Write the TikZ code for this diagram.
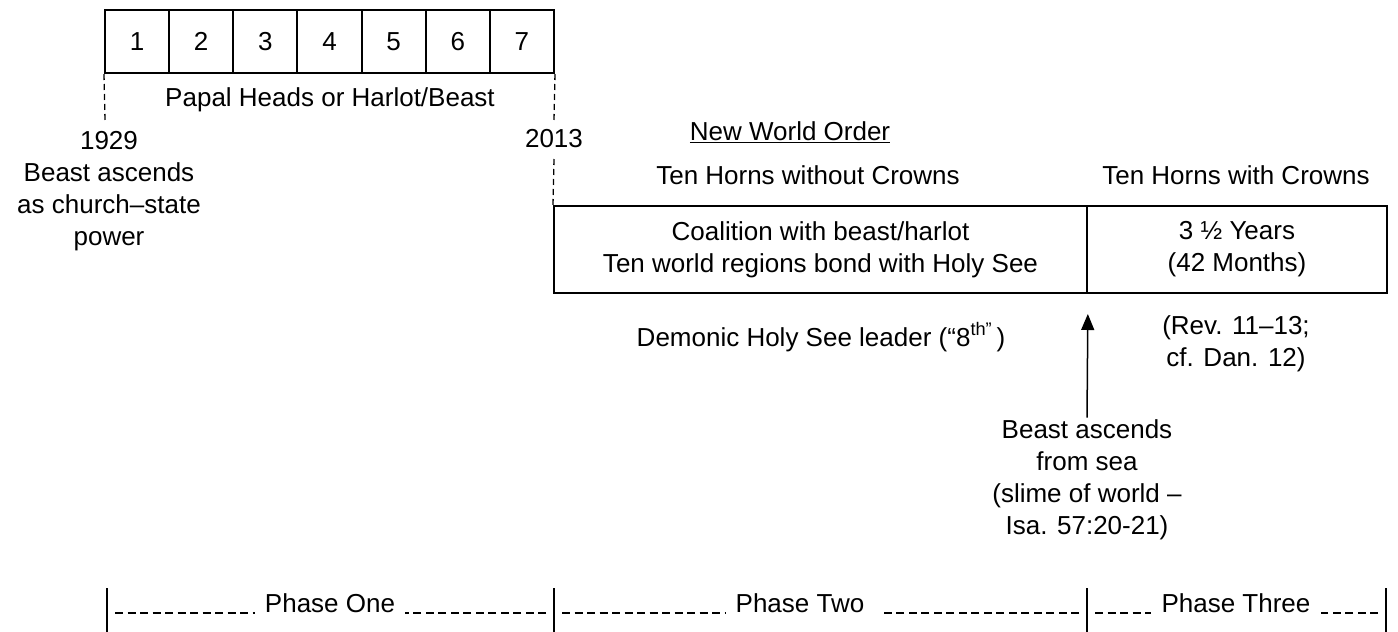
\documentclass[tikz,border=0pt]{standalone}
\usepackage{fontspec}
\setmainfont{Liberation Sans}
\usetikzlibrary{positioning,arrows.meta}

\begin{document}
\begin{tikzpicture}[x=1pt,y=-1pt,font=\fontsize{26}{32}\selectfont,
	head/.style={draw,line width=2pt,minimum width=64.14pt,minimum height=63pt,inner sep=0pt},
	period/.style={draw,line width=2pt,minimum height=87pt,inner sep=0pt,align=center},
	txt/.style={align=center,inner sep=0pt},
	yearline/.style={line width=1.3pt,dash pattern=on 6pt off 4pt},
	phasebar/.style={line width=2.5pt},
	phasedash/.style={line width=1.3pt,dash pattern=on 8pt off 4.5pt,shorten <=8pt},
	phase/.style={inner ysep=0pt,inner xsep=10pt}]
	\useasboundingbox (0,0) rectangle (1398,632);
	% the seven heads
	\foreach \i in {1,...,7}
		\node[head] (h\i) at ({105+64.14*(\i-0.5)},41.5) {\i};
	\node[txt] (papal) at (330,100) {Papal Heads or Harlot/Beast};
	% years
	\coordinate (c1929) at (105,120);
	\coordinate (c2013a) at (554,120);
	\coordinate (c2013b) at (554,159);
	\draw[yearline] (h1.south west) -- (c1929);
	\draw[yearline] (h7.south east) -- (c2013a);
	\node[txt] (t1929) at (109,141) {1929};
	\node[txt] (rise1929) at (109,207) {Beast ascends\\as church--state\\power};
	\node[txt] (t2013) at (554,139) {2013};
	% horns
	\node[txt] (nwo) at (790,132) {\underline{New World Order}};
	\node[txt] (nocrown) at (808,175) {Ten Horns without Crowns};
	\node[txt] (crown) at (1236,175) {Ten Horns with Crowns};
	\node[period,minimum width=533pt] (coal) at (820.5,249.5) {Coalition with beast/harlot\\Ten world regions bond with Holy See};
	\node[period,minimum width=300pt] (years) at (1237,249.5) {3 ½ Years\\(42 Months)};
	\draw[yearline] (c2013b) -- (coal.north west);
	\node[txt] (leader) at (821,337) {Demonic Holy See leader (“8\raisebox{2pt}{\textsuperscript{th”}}\,)};
	\node[txt] (rev) at (1236,344) {(Rev. 11--13;\\cf. Dan. 12)};
	\node[txt] (sea) at (1087,480) {Beast ascends\\from sea\\(slime of world --\\Isa. 57:20-21)};
	\draw[-{Triangle[width=13pt,length=16pt]},line width=1.5pt,shorten >=20pt,shorten <=2pt] (sea.north) -- (coal.south east);
	% phases
	\coordinate (p0) at (107,613);
	\coordinate (p1) at (554,613);
	\coordinate (p2) at (1087,613);
	\coordinate (p3) at (1386,613);
	\foreach \p in {p0,p1,p2,p3}
		\draw[phasebar] ([yshift=25pt]\p) -- ([yshift=-25pt]\p);
	\node[phase] (one) at (330,603) {Phase One};
	\node[phase] (two) at (800,603) {Phase Two};
	\node[phase] (three) at (1236,603) {Phase Three};
	\draw[phasedash] (p0) -- (p0 -| one.west);
	\draw[phasedash] (p1) -- (p1 -| one.east);
	\draw[phasedash] (p1) -- (p1 -| two.west);
	\draw[phasedash] (p2) -- ([xshift=8pt]p2 -| two.east);
	\draw[phasedash] (p2) -- (p2 -| three.west);
	\draw[phasedash] (p3) -- (p3 -| three.east);
\end{tikzpicture}
\end{document}
